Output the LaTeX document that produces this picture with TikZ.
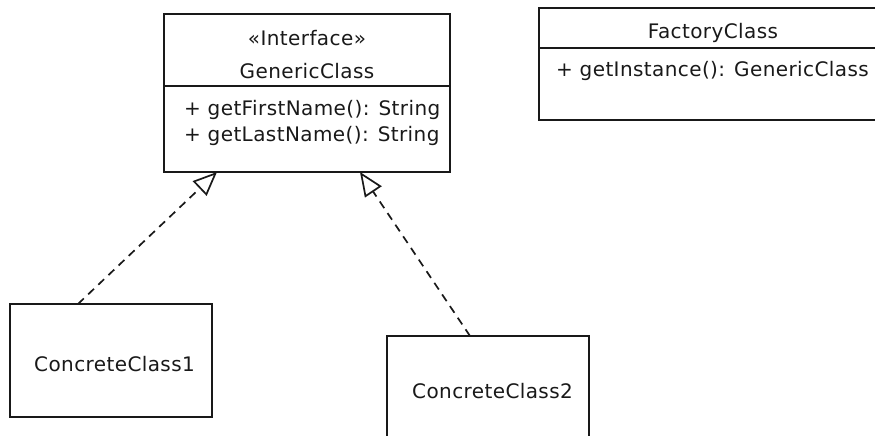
\documentclass[tikz,border=0pt]{standalone}
\usepackage{fontspec}
\setmainfont{DejaVu Sans}[LetterSpace=2]
\usetikzlibrary{arrows.meta,calc}
\tikzset{
  umlbox/.style={draw=black!90, line width=1.8pt, anchor=north west, inner sep=0pt, outer sep=0pt},
  divline/.style={draw=black!90, line width=1.8pt},
  lbl/.style={font=\fontsize{20}{22}\selectfont, inner sep=0pt, text=black!90},
  realize/.style={draw=black!90, line width=1.7pt, dash pattern=on 8pt off 6pt,
    -{Triangle[open, length=24pt, width=20pt, line width=1.7pt]}}
}
\begin{document}
\begin{tikzpicture}[x=1pt,y=-1pt]
\useasboundingbox (0,0) rectangle (875,436);
% boxes
\node[umlbox, minimum width=286pt, minimum height=158pt] (gen) at (164,14) {};
\node[umlbox, minimum width=350pt, minimum height=112pt] (fac) at (539,8) {};
\node[umlbox, minimum width=202pt, minimum height=113pt] (c1) at (10,304) {};
\node[umlbox, minimum width=202pt, minimum height=114pt] (c2) at (387,336) {};
% dividers
\draw[divline] ($(gen.north west)+(0,72)$) -- ($(gen.north east)+(0,72)$);
\draw[divline] ($(fac.north west)+(0,40)$) -- ($(fac.north east)+(0,40)$);
% texts
\node[lbl, anchor=base] (genst) at (307,46) {«Interface»};
\node[lbl, anchor=base] (genname) at (307,78) {GenericClass};
\node[lbl, anchor=base west] (genop1) at (184,115) {+ getFirstName(): String};
\node[lbl, anchor=base west] (genop2) at (184,141) {+ getLastName(): String};
\node[lbl, anchor=base] (facname) at (713,39) {FactoryClass};
\node[lbl, anchor=base west] (facop) at (556,77) {+ getInstance(): GenericClass};
\node[lbl, anchor=base west] (c1name) at (34,371) {ConcreteClass1};
\node[lbl, anchor=base west] (c2name) at (412,398) {ConcreteClass2};
% realizations
\draw[realize] ($(c1.north west)+(68,0)$) -- ($(gen.south west)+(53,0)$);
\draw[realize] ($(c2.north west)+(83,0)$) -- ($(gen.south west)+(196,0)$);
\end{tikzpicture}
\end{document}
